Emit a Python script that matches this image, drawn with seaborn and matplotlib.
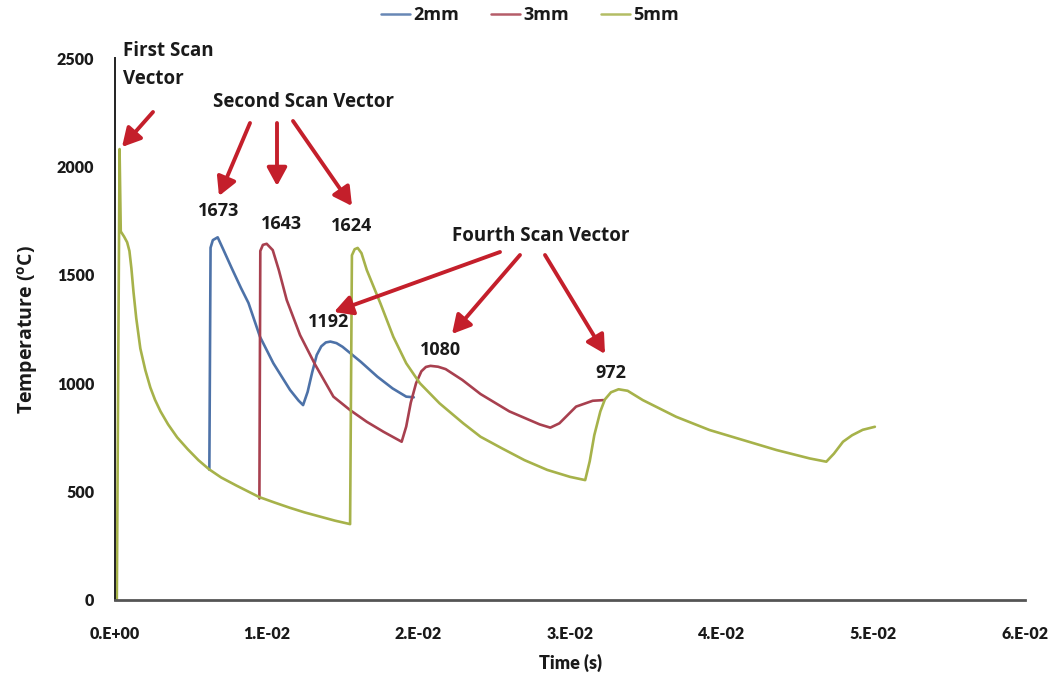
import numpy as np
import pandas as pd
import matplotlib
matplotlib.use("Agg")
import matplotlib.pyplot as plt
import seaborn as sns

# ---- data: time in milliseconds, temperature in °C ----
t_2mm = [6.22, 6.30, 6.45, 6.77, 7.15, 7.70, 8.30, 8.80, 9.56, 10.44, 11.54, 12.10, 12.40,
         12.70, 13.00, 13.30, 13.60, 13.90, 14.20, 14.60, 15.00, 16.20, 17.30, 18.30,
         19.20, 19.70]
T_2mm = [601, 1625, 1660, 1673, 1615, 1530, 1440, 1370, 1214, 1092, 969, 920, 899,
         960, 1050, 1130, 1170, 1188, 1192, 1185, 1168, 1099, 1030, 976,
         938, 935]

t_3mm = [9.52, 9.58, 9.75, 10.00, 10.40, 10.80, 11.32, 12.20, 13.20, 14.40, 15.50,
         16.60, 17.70, 18.90, 19.20, 19.50, 19.85, 20.20, 20.50, 20.80, 21.30, 21.80,
         22.90, 24.10, 26.00, 28.00, 28.70, 29.30, 30.40, 31.50, 32.20]
T_3mm = [468, 1610, 1638, 1643, 1614, 1522, 1384, 1222, 1085, 938, 876,
         822, 776, 730, 800, 910, 1000, 1055, 1075, 1080, 1076, 1065,
         1015, 950, 870, 810, 795, 815, 892, 919, 922]

t_5mm = [0.00, 0.12, 0.30, 0.38, 0.60, 0.80, 0.95, 1.08, 1.22, 1.40, 1.67, 2.00,
         2.33, 2.64, 3.00, 3.50, 4.10, 4.80, 5.50, 6.20, 7.00, 8.00, 9.50, 10.50,
         11.50, 12.50, 13.50, 14.50, 15.50, 15.62, 15.80, 16.00, 16.25, 16.60,
         17.50, 18.35, 19.20, 20.10, 21.40, 22.96, 24.10, 25.50, 27.00, 28.50,
         30.00, 31.00, 31.30, 31.60, 32.00, 32.30, 32.70, 33.20, 33.80, 34.80,
         37.00, 39.20, 41.40, 43.60, 45.80, 46.90, 47.40, 48.00, 48.60, 49.30,
         50.10]
T_5mm = [0, 0, 2080, 1700, 1676, 1650, 1610, 1530, 1420, 1300, 1160, 1060,
         980, 923, 870, 810, 750, 695, 645, 603, 565, 528, 475, 450,
         426, 404, 385, 366, 350, 1590, 1618, 1624, 1600, 1522,
         1368, 1214, 1092, 1000, 907, 815, 753, 700, 645, 600,
         568, 553, 640, 760, 870, 925, 958, 972, 965, 922,
         845, 784, 738, 692, 653, 638, 675, 730, 760, 785,
         799]

series_names = ["2mm", "3mm", "5mm"]
x_ticks = [0.00, 0.01, 0.02, 0.03, 0.04, 0.05, 0.06]
x_tick_labels = ["0.E+00", "1.E-02", "2.E-02", "3.E-02", "4.E-02", "5.E-02", "6.E-02"]
y_ticks = [0, 500, 1000, 1500, 2000, 2500]

# peak values quoted on the chart (second and fourth scan vectors)
second_peaks = [1673, 1643, 1624]
fourth_peaks = [1192, 1080, 972]

# ---- styling ----
sns.set_style("white")
plt.rcParams["font.family"] = ["Lato", "DejaVu Sans"]
plt.rcParams["font.weight"] = "bold"
plt.rcParams["mathtext.fontset"] = "custom"
plt.rcParams["mathtext.rm"] = "Open Sans:bold"
plt.rcParams["mathtext.bf"] = "Open Sans:bold"
plt.rcParams["mathtext.it"] = "Open Sans:bold"

colors = {"2mm": "#4d72a8", "3mm": "#a8404f", "5mm": "#a6b24a"}
arrow_red = "#c41f2b"
text_col = "#1a1a1a"
wide_font = ["Open Sans", "DejaVu Sans"]

frames = []
for name, t, T in zip(series_names, [t_2mm, t_3mm, t_5mm], [T_2mm, T_3mm, T_5mm]):
    frames.append(pd.DataFrame({"time": np.array(t) / 1000.0,
                                "temp": T, "size": name}))
df = pd.concat(frames, ignore_index=True)

fig = plt.figure(figsize=(10.6, 6.85), dpi=100)
ax = fig.add_axes([0.1085, 0.1241, 0.8585, 0.7912])

sns.lineplot(data=df, x="time", y="temp", hue="size", hue_order=series_names,
             palette=colors, estimator=None, sort=False, lw=1.9, ax=ax)

ax.set_xlim(0, 0.06)
ax.set_ylim(0, 2500)
ax.set_xticks(x_ticks, x_tick_labels)
ax.set_yticks(y_ticks)
ax.tick_params(axis="both", length=0, labelsize=11.5, colors=text_col)
ax.tick_params(axis="x", pad=19)
ax.tick_params(axis="y", pad=15)
for lab in ax.get_xticklabels() + ax.get_yticklabels():
    lab.set_fontweight("heavy")

ax.set_xlabel("Time (s)", fontsize=13, fontweight="heavy", color=text_col, labelpad=8)
ax.set_ylabel(r"Temperature ($^{\mathbf{o}}$C)", fontsize=14, fontweight="bold",
              family=wide_font, color=text_col, labelpad=12)

sns.despine(ax=ax)
ax.spines["left"].set_color("#222222")
ax.spines["left"].set_linewidth(1.4)
ax.spines["bottom"].set_color("#555555")
ax.spines["bottom"].set_linewidth(2.0)

sns.move_legend(ax, "center", bbox_to_anchor=(0.5, 0.978),
                bbox_transform=fig.transFigure, ncol=3, frameon=False, title=None,
                handlelength=1.6, handletextpad=0.15, columnspacing=1.8,
                prop={"weight": "bold", "size": 13, "family": wide_font})
for txt in ax.get_legend().get_texts():
    txt.set_color(text_col)
for ln in ax.get_legend().get_lines():
    ln.set_linewidth(1.8)
    ln.set_alpha(0.85)

arrow_kw = dict(arrowstyle="-|>,head_length=0.55,head_width=0.3", color=arrow_red,
                lw=2.8, mutation_scale=20, shrinkA=0, shrinkB=0)
text_kw = dict(fontsize=13.5, fontweight="bold", color=text_col, family=wide_font)


def px(x, y):
    """Convert a position measured in figure pixels (from top-left) to data units."""
    inv = ax.transData.inverted()
    return inv.transform((x, fig.bbox.height - y))


fig.canvas.draw()

# First scan vector
ax.text(*px(123, 65), "First Scan\nVector", ha="left", va="center",
        linespacing=1.55, **text_kw)
ax.annotate("", xy=px(122, 147), xytext=px(153, 112), arrowprops=arrow_kw)

# Second scan vector
ax.text(*px(304, 102), "Second Scan Vector", ha="center", va="center", **text_kw)
for tail, head in [((250, 123), (219, 196)), ((277, 123), (277, 186)),
                   ((293, 121), (352, 206))]:
    ax.annotate("", xy=px(*head), xytext=px(*tail), arrowprops=arrow_kw)

# Fourth scan vector
ax.text(*px(541, 236), "Fourth Scan Vector", ha="center", va="center", **text_kw)
for tail, head in [((500, 252), (334, 312)), ((520, 255), (452, 334)),
                   ((545, 255), (605, 354))]:
    ax.annotate("", xy=px(*head), xytext=px(*tail), arrowprops=arrow_kw)

# peak value labels, placed just above each peak (offsets in points)
label_specs = [
    (t_2mm, T_2mm, second_peaks[0], (0.7, 18.7)),
    (t_3mm, T_3mm, second_peaks[1], (10.8, 14.4)),
    (t_5mm, T_5mm, second_peaks[2], (-4.3, 15.8)),
    (t_2mm, T_2mm, fourth_peaks[0], (-1.4, 14.4)),
    (t_3mm, T_3mm, fourth_peaks[1], (7.2, 11.5)),
    (t_5mm, T_5mm, fourth_peaks[2], (-5.8, 11.5)),
]
lab_kw = dict(text_kw)
lab_kw["fontsize"] = 13
for t, T, val, off in label_specs:
    i = len(T) - 1 - T[::-1].index(val)
    ax.annotate(f"{val}", xy=(t[i] / 1000.0, val), xytext=off,
                textcoords="offset points", ha="center", va="center", **lab_kw)

fig.savefig("out.png", dpi=100, facecolor="white")
